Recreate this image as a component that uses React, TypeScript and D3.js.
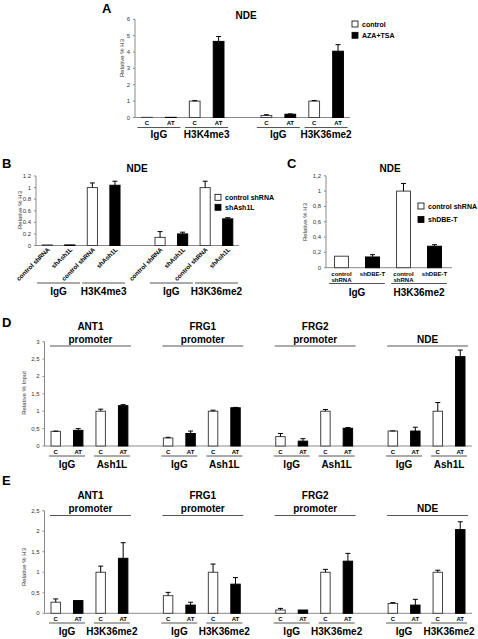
import React from "react";
import * as d3 from "d3";

const FONT = "'Liberation Sans', Arial, Helvetica, sans-serif";

// ---------- Panel A ----------
const aGroups = ["IgG", "H3K4me3", "IgG", "H3K36me2"];
const aSubLabels = ["C", "AT"];
const aValues = [0.01, 0.01, 1.0, 4.65, 0.12, 0.2, 1.0, 4.05];
const aErrors = [0, 0, 0.03, 0.3, 0.05, 0.02, 0.04, 0.4];
const aTicks = [0, 1, 2, 3, 4, 5, 6];
const aTickLabels = ["0", "1", "2", "3", "4", "5", "6"];
const aLegend = ["control", "AZA+TSA"];

// ---------- Panel B ----------
const bGroups = ["IgG", "H3K4me3", "IgG", "H3K36me2"];
const bSubLabels = ["control shRNA", "shAsh1L"];
const bValues = [0.01, 0.01, 1.0, 1.04, 0.14, 0.2, 1.0, 0.46];
const bErrors = [0, 0, 0.08, 0.07, 0.1, 0.03, 0.11, 0.02];
const bTicks = [0, 0.2, 0.4, 0.6, 0.8, 1, 1.2];
const bTickLabels = ["0", "0.2", "0.4", "0.6", "0.8", "1", "1.2"];
const bLegend = ["control shRNA", "shAsh1L"];

// ---------- Panel C ----------
const cGroups = ["IgG", "H3K36me2"];
const cSubLabels = [["control", "shRNA"], ["shDBE-T"]];
const cValues = [0.15, 0.14, 1.0, 0.28];
const cErrors = [0, 0.03, 0.1, 0.02];
const cTicks = [0, 0.2, 0.4, 0.6, 0.8, 1, 1.2];
const cTickLabels = ["0", "0,2", "0,4", "0,6", "0,8", "1", "1,2"];
const cLegend = ["control shRNA", "shDBE-T"];

// ---------- Panel D ----------
const dRegions = [["ANT1", "promoter"], ["FRG1", "promoter"], ["FRG2", "promoter"], ["NDE"]];
const dGroups = ["IgG", "Ash1L"];
const dSubLabels = ["C", "AT"];
const dValues = [0.42, 0.45, 1.0, 1.16, 0.23, 0.36, 1.0, 1.1, 0.27, 0.14, 1.0, 0.51, 0.43, 0.43, 1.0, 2.57];
const dErrors = [0.01, 0.05, 0.06, 0.03, 0.02, 0.07, 0.03, 0.01, 0.09, 0.07, 0.05, 0.02, 0.005, 0.11, 0.25, 0.19];
const dTicks = [0, 0.5, 1, 1.5, 2, 2.5, 3];
const dTickLabels = ["0", "0,5", "1", "1,5", "2", "2,5", "3"];

// ---------- Panel E ----------
const eRegions = [["ANT1", "promoter"], ["FRG1", "promoter"], ["FRG2", "promoter"], ["NDE"]];
const eGroups = ["IgG", "H3K36me2"];
const eSubLabels = ["C", "AT"];
const eValues = [0.27, 0.31, 1.0, 1.34, 0.43, 0.2, 1.0, 0.71, 0.08, 0.08, 1.0, 1.27, 0.24, 0.2, 1.0, 2.04];
const eErrors = [0.08, 0, 0.15, 0.38, 0.08, 0.07, 0.2, 0.16, 0.04, 0, 0.07, 0.19, 0.02, 0.14, 0.05, 0.19];
const eTicks = [0, 0.5, 1, 1.5, 2, 2.5];
const eTickLabels = ["0", "0,5", "1", "1,5", "2", "2,5"];

const AXIS = "#8a8a8a";
const LINE = "#555";

type Band = d3.ScaleBand<number>;
type Lin = d3.ScaleLinear<number, number>;

function slotOf(i: number, gap: boolean) {
  return gap ? i + Math.floor(i / 4) : i;
}

function center(x: Band, s: number) {
  return (x(s) as number) + x.bandwidth() / 2;
}

function Bars({ values, errors, x, y, gap, frac }: { values: number[]; errors: number[]; x: Band; y: Lin; gap: boolean; frac: number }) {
  const w = x.bandwidth() * frac;
  return (
    <g>
      {values.map((v, i) => {
        const cx = center(x, slotOf(i, gap));
        const top = y(v);
        const e = errors[i];
        const black = i % 2 === 1;
        return (
          <g key={i}>
            <rect x={cx - w / 2} y={top} width={w} height={y(0) - top} fill={black ? "#000" : "#fff"} stroke={black ? "#000" : "#444"} strokeWidth={1} />
            {e > 0 && (
              <g stroke="#000" strokeWidth={1}>
                <line x1={cx} x2={cx} y1={top} y2={y(v + e)} />
                <line x1={cx - 2.5} x2={cx + 2.5} y1={y(v + e)} y2={y(v + e)} />
              </g>
            )}
          </g>
        );
      })}
    </g>
  );
}

function YAxis({ y, x0, x1, ticks, labels, title, titleX, titleY }: { y: Lin; x0: number; x1: number; ticks: number[]; labels: string[]; title: string; titleX: number; titleY: number }) {
  const yMax = y(ticks[ticks.length - 1]);
  return (
    <g fontFamily={FONT}>
      <line x1={x0} x2={x0} y1={y(0)} y2={yMax} stroke={AXIS} />
      <line x1={x0} x2={x1} y1={y(0)} y2={y(0)} stroke={AXIS} />
      {ticks.map((t, i) => (
        <g key={i}>
          <line x1={x0 - 2} x2={x0} y1={y(t)} y2={y(t)} stroke={AXIS} />
          <text x={x0 - 5} y={y(t) + 2} fontSize={6} textAnchor="end" fill="#333">{labels[i]}</text>
        </g>
      ))}
      <text transform={`translate(${titleX},${titleY}) rotate(-90)`} fontSize={6} textAnchor="middle" fill="#333">{title}</text>
    </g>
  );
}

function Legend({ items, x, y, dy }: { items: string[]; x: number; y: number; dy: number }) {
  return (
    <g fontFamily={FONT}>
      {items.map((t, i) => (
        <g key={i}>
          <rect x={x} y={y + i * dy} width={6} height={6} fill={i === 0 ? "#fff" : "#000"} stroke="#000" strokeWidth={0.8} />
          <text x={x + 10} y={y + i * dy + 5.5} fontSize={7} fontWeight="bold">{t}</text>
        </g>
      ))}
    </g>
  );
}

function PairLabels({ x, gap, n, subs, subY, lineY, groupY, groups, spread }: { x: Band; gap: boolean; n: number; subs: string[] | null; subY: number; lineY: number; groupY: number; groups: string[]; spread: number }) {
  const pairs = d3.range(n / 2);
  const bw = x.bandwidth();
  return (
    <g fontFamily={FONT}>
      {subs &&
        d3.range(n).map((i) => (
          <text key={"s" + i} x={center(x, slotOf(i, gap))} y={subY} fontSize={6} fontWeight="bold" textAnchor="middle">{subs[i % 2]}</text>
        ))}
      {pairs.map((p) => {
        const c1 = center(x, slotOf(2 * p, gap));
        const c2 = center(x, slotOf(2 * p + 1, gap));
        return (
          <g key={"p" + p}>
            <line x1={c1 - spread * bw} x2={c2 + spread * bw} y1={lineY} y2={lineY} stroke={LINE} />
            <text x={(c1 + c2) / 2} y={groupY} fontSize={10} fontWeight="bold" textAnchor="middle">{groups[p % groups.length]}</text>
          </g>
        );
      })}
    </g>
  );
}

function Regions({ x, regions, frac, lineY, line1Y, line2Y }: { x: Band; regions: string[][]; frac: number; lineY: number; line1Y: number; line2Y: number }) {
  const w = x.bandwidth() * frac;
  return (
    <g fontFamily={FONT} fontWeight="bold" fontSize={10} textAnchor="middle">
      {regions.map((r, k) => {
        const l = center(x, slotOf(4 * k, true)) - w / 2 - 1;
        const rr = center(x, slotOf(4 * k + 3, true)) + w / 2 + 3;
        const mid = (l + rr) / 2;
        return (
          <g key={k}>
            <line x1={l} x2={rr} y1={lineY} y2={lineY} stroke={LINE} />
            {r.length === 2 ? (
              <>
                <text x={mid} y={line1Y}>{r[0]}</text>
                <text x={mid} y={line2Y}>{r[1]}</text>
              </>
            ) : (
              <text x={mid} y={line2Y}>{r[0]}</text>
            )}
          </g>
        );
      })}
    </g>
  );
}

export default function App() {
  // Panel A scales
  const xA = d3.scaleBand<number>().domain(d3.range(9)).range([135, 350]);
  const yA = d3.scaleLinear().domain([0, 6]).range([117.5, 19.3]);
  // Panel B
  const xB = d3.scaleBand<number>().domain(d3.range(9)).range([36, 239]);
  const yB = d3.scaleLinear().domain([0, 1.2]).range([245.5, 176]);
  // Panel C
  const xC = d3.scaleBand<number>().domain(d3.range(4)).range([326, 450]);
  const yC = d3.scaleLinear().domain([0, 1.2]).range([267.7, 175.8]);
  // Panel D / E
  const xD = d3.scaleBand<number>().domain(d3.range(19)).range([44.5, 471.5]);
  const yD = d3.scaleLinear().domain([0, 3]).range([446, 341.7]);
  const yE = d3.scaleLinear().domain([0, 2.5]).range([613.3, 510.7]);

  return (
    <svg width={478} height={639} style={{ position: "absolute", left: 0, top: 0, background: "#fff" }} fontFamily={FONT}>
      <rect width={478} height={639} fill="#fff" />
      {/* Panel letters */}
      <g fontSize={13} fontWeight="bold">
        <text x={102} y={12.5}>A</text>
        <text x={2} y={168}>B</text>
        <text x={287} y={168}>C</text>
        <text x={2} y={327}>D</text>
        <text x={2} y={485}>E</text>
      </g>
      <g fontSize={10} fontWeight="bold" textAnchor="middle">
        <text x={246} y={18.5}>NDE</text>
        <text x={137} y={172}>NDE</text>
        <text x={390} y={172}>NDE</text>
      </g>

      {/* Panel A */}
      <YAxis y={yA} x0={135} x1={350} ticks={aTicks} labels={aTickLabels} title="Relative % H3" titleX={124} titleY={58} />
      <Bars values={aValues} errors={aErrors} x={xA} y={yA} gap={true} frac={0.45} />
      <PairLabels x={xA} gap={true} n={8} subs={aSubLabels} subY={125} lineY={127.5} groupY={137.5} groups={aGroups} spread={0.4} />
      <Legend items={aLegend} x={352} y={21} dy={11.3} />

      {/* Panel B */}
      <YAxis y={yB} x0={36} x1={239} ticks={bTicks} labels={bTickLabels} title="Relative % H3" titleX={22} titleY={210} />
      <Bars values={bValues} errors={bErrors} x={xB} y={yB} gap={true} frac={0.45} />
      <g fontFamily={FONT}>
        {bValues.map((_, i) => {
          const cx = center(xB, slotOf(i, true));
          return (
            <text key={i} transform={`translate(${cx + 3},${250}) rotate(-45)`} fontSize={6.3} fontWeight="bold" textAnchor="end">{bSubLabels[i % 2]}</text>
          );
        })}
      </g>
      <PairLabels x={xB} gap={true} n={8} subs={null} subY={0} lineY={283} groupY={295} groups={bGroups} spread={0.45} />
      <Legend items={bLegend} x={215} y={194.3} dy={10} />

      {/* Panel C */}
      <YAxis y={yC} x0={326} x1={452} ticks={cTicks} labels={cTickLabels} title="Relative % H3" titleX={307} titleY={222} />
      <Bars values={cValues} errors={cErrors} x={xC} y={yC} gap={false} frac={0.45} />
      <g fontFamily={FONT} fontSize={6} fontWeight="bold" textAnchor="middle">
        {cValues.map((_, i) => {
          const cx = center(xC, i);
          const lines = cSubLabels[i % 2];
          return (
            <g key={i}>
              {lines.map((t, j) => (
                <text key={j} x={cx} y={275.5 + j * 6.5}>{t}</text>
              ))}
            </g>
          );
        })}
      </g>
      <PairLabels x={xC} gap={false} n={4} subs={null} subY={0} lineY={283.5} groupY={295.5} groups={cGroups} spread={0.4} />
      <Legend items={cLegend} x={418} y={203} dy={13.5} />

      {/* Panel D */}
      <YAxis y={yD} x0={44.5} x1={472} ticks={dTicks} labels={dTickLabels} title="Relative % Input" titleX={26} titleY={393} />
      <Regions x={xD} regions={dRegions} frac={0.42} lineY={346} line1Y={329.5} line2Y={342.5} />
      <Bars values={dValues} errors={dErrors} x={xD} y={yD} gap={true} frac={0.42} />
      <PairLabels x={xD} gap={true} n={16} subs={dSubLabels} subY={453.5} lineY={456} groupY={467.5} groups={dGroups} spread={0.3} />

      {/* Panel E */}
      <YAxis y={yE} x0={44.5} x1={472} ticks={eTicks} labels={eTickLabels} title="Relative % H3" titleX={26} titleY={567} />
      <Regions x={xD} regions={eRegions} frac={0.42} lineY={515.5} line1Y={499} line2Y={512} />
      <Bars values={eValues} errors={eErrors} x={xD} y={yE} gap={true} frac={0.42} />
      <PairLabels x={xD} gap={true} n={16} subs={eSubLabels} subY={620.5} lineY={623} groupY={635} groups={eGroups} spread={0.3} />
    </svg>
  );
}
